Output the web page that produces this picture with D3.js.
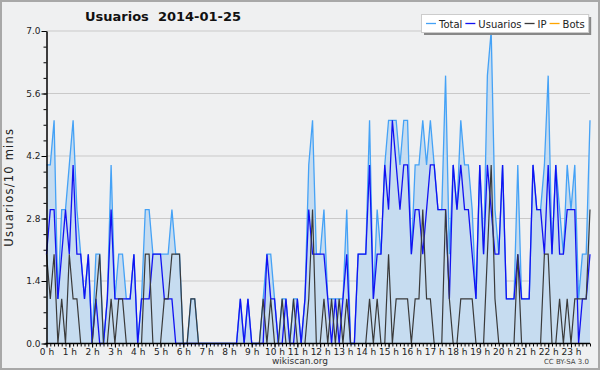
<!DOCTYPE html>
<html lang="es">
<head>
<meta charset="UTF-8">
<title>Usuarios 2014-01-25</title>
<script src="https://d3js.org/d3.v7.min.js"></script>
<style>
  body { margin: 0; background: #efefef; }
  svg text { font-family: "DejaVu Sans", sans-serif; }
</style>
</head>
<body>
<svg width="600" height="370"></svg>
<script>
// one value every 10 minutes, one row per hour
const total = [
  4,4,5,1,3,3,  4,5,3,2,1,2,  0,2,2,0,1,4,  1,2,2,1,1,2,
  0,1,3,3,2,2,  2,2,2,3,2,2,  0,0,1,1,0,0,  0,0,0,0,0,0,
  0,0,0,1,0,1,  0,0,0,1,2,2,  1,0,1,1,0,1,  1,0,1,4,5,2,
  2,3,1,1,1,1,  1,3,0,0,2,2,  2,5,1,3,2,4,  5,5,5,4,5,5,
  2,4,4,5,4,5,  4,3,3,6,2,4,  3,5,4,4,3,1,  4,2,6,7,3,2,
  4,1,1,1,4,1,  1,1,4,3,3,4,  6,2,4,3,2,4,  3,4,1,2,2,5
];
const usuarios = [
  2,3,3,1,2,3,  2,4,2,2,1,2,  0,1,0,0,1,3,  1,1,1,1,1,2,
  0,1,1,1,2,2,  2,1,1,1,0,0,  0,0,0,0,0,0,  0,0,0,0,0,0,
  0,0,0,1,0,1,  0,0,0,0,2,1,  1,0,0,1,0,0,  1,0,1,3,2,2,
  2,2,1,0,1,0,  1,2,0,0,2,2,  2,4,1,2,2,4,  3,5,4,3,4,4,
  2,3,3,2,3,4,  4,3,3,3,1,4,  3,4,3,3,2,1,  4,2,4,3,2,2,
  4,1,1,1,2,1,  1,1,4,3,3,2,  4,2,4,2,2,3,  3,3,0,1,1,2
];
const ip = [
  2,1,2,0,1,0,  2,1,1,0,0,0,  0,1,2,0,0,1,  0,1,1,0,0,0,
  0,0,2,2,0,0,  0,1,1,2,2,2,  0,0,1,1,0,0,  0,0,0,0,0,0,
  0,0,0,0,0,0,  0,0,0,1,0,1,  0,0,1,0,0,1,  0,0,0,1,3,0,
  0,1,0,1,0,1,  0,1,0,0,0,0,  0,1,0,1,0,0,  2,0,1,1,1,1,
  0,1,1,3,1,1,  0,0,0,3,1,0,  0,1,1,1,1,0,  0,0,2,4,1,0,
  0,0,0,0,2,0,  0,0,0,0,0,2,  2,0,0,1,0,1,  0,1,1,1,1,3
];
const bots = [
  0,0,0,0,0,0,  0,0,0,0,0,0,  0,0,0,0,0,0,  0,0,0,0,0,0,
  0,0,0,0,0,0,  0,0,0,0,0,0,  0,0,0,0,0,0,  0,0,0,0,0,0,
  0,0,0,0,0,0,  0,0,0,0,0,0,  0,0,0,0,0,0,  0,0,0,0,0,0,
  0,0,0,0,0,0,  0,0,0,0,0,0,  0,0,0,0,0,0,  0,0,0,0,0,0,
  0,0,0,0,0,0,  0,0,0,0,0,0,  0,0,0,0,0,0,  0,0,0,0,0,0,
  0,0,0,0,0,0,  0,0,0,0,0,0,  0,0,0,0,0,0,  0,0,0,0,0,0
];
const hourLabels = ["0 h","1 h","2 h","3 h","4 h","5 h","6 h","7 h","8 h","9 h","10 h","11 h",
  "12 h","13 h","14 h","15 h","16 h","17 h","18 h","19 h","20 h","21 h","22 h","23 h"];
const yTicks = [0, 1.4, 2.8, 4.2, 5.6, 7.0];

const width = 600, height = 370;
const plotLeft = 46.5, plotRight = 590, plotTop = 31, plotBottom = 343.5;

const svg = d3.select("svg");

svg.append("rect").attr("x", 1).attr("y", 1)
  .attr("width", width - 2).attr("height", height - 2)
  .attr("fill", "#eff0f1").attr("stroke", "#a8a8a8").attr("stroke-width", 2);

const x = d3.scaleLinear().domain([0, total.length - 1]).range([plotLeft, plotRight]);
const y = d3.scaleLinear().domain([0, 7]).range([plotBottom, plotTop]);

// grid
svg.append("g").selectAll("line")
  .data(yTicks.slice(1))
  .join("line")
  .attr("x1", plotLeft).attr("x2", plotRight)
  .attr("y1", d => y(d)).attr("y2", d => y(d))
  .attr("stroke", "#c9c9c9").attr("stroke-width", 1);

const idx = d3.range(total.length);

// total area + lines
svg.append("path").datum(idx)
  .attr("fill", "#c6dcf0")
  .attr("d", d3.area().x(i => x(i)).y0(y(0)).y1(i => y(total[i])));

const line = arr => d3.line().x(i => x(i)).y(i => y(arr[i]));

svg.append("path").datum(idx).attr("fill", "none")
  .attr("stroke", "#ffa500").attr("stroke-width", 1.2).attr("d", line(bots));
svg.append("path").datum(idx).attr("fill", "none")
  .attr("stroke", "#45a2f6").attr("stroke-width", 1.3).attr("d", line(total));
svg.append("path").datum(idx).attr("fill", "none")
  .attr("stroke", "#1212f2").attr("stroke-width", 1.3).attr("d", line(usuarios));
svg.append("path").datum(idx).attr("fill", "none")
  .attr("stroke", "#3a3a3a").attr("stroke-width", 1.2).attr("d", line(ip));

// x axis: small ticks every 10 min, labels every hour
const xMinor = svg.append("g")
  .attr("transform", `translate(0,${plotBottom})`)
  .call(d3.axisBottom(x).tickValues(idx).tickSize(3).tickFormat(""));
xMinor.select(".domain").remove();
const xAxis = svg.append("g")
  .attr("transform", `translate(0,${plotBottom})`)
  .call(d3.axisBottom(x).tickValues(d3.range(0, 144, 6)).tickSize(4)
    .tickSizeOuter(0).tickPadding(1).tickFormat((d, i) => hourLabels[i]));
xAxis.select(".domain").attr("stroke", "#000").attr("stroke-width", 1.5)
  .attr("d", `M${plotLeft - 1},0H${plotRight}`);
xAxis.selectAll("text").attr("font-size", 9).attr("fill", "#222")
  .attr("font-family", "DejaVu Sans Condensed, DejaVu Sans, sans-serif");

// y axis
const yMinor = svg.append("g")
  .attr("transform", `translate(${plotLeft},0)`)
  .call(d3.axisLeft(y).tickValues(d3.range(0, 7.01, 0.35)).tickSize(3).tickFormat(""));
yMinor.select(".domain").remove();
const yAxis = svg.append("g")
  .attr("transform", `translate(${plotLeft},0)`)
  .call(d3.axisLeft(y).tickValues(yTicks).tickSize(5).tickSizeOuter(0)
    .tickPadding(1).tickFormat(d3.format(".1f")));
yAxis.select(".domain").attr("stroke", "#000").attr("stroke-width", 1.5);
yAxis.selectAll("text").attr("font-size", 9).attr("fill", "#222")
  .attr("font-family", "DejaVu Sans Condensed, DejaVu Sans, sans-serif");

// title
svg.append("text")
  .attr("x", 85).attr("y", 21)
  .style("white-space", "pre")
  .attr("font-size", 13).attr("font-weight", "bold").attr("fill", "#111")
  .text("Usuarios  2014-01-25");

// y label
svg.append("text")
  .attr("transform", `translate(13,${(plotTop + plotBottom) / 2}) rotate(-90)`)
  .attr("text-anchor", "middle")
  .attr("font-family", "DejaVu Sans Mono, monospace")
  .attr("font-size", 11.5).attr("letter-spacing", 1.2).attr("fill", "#222")
  .text("Usuarios/10 mins");

// footer
svg.append("text")
  .attr("x", 300).attr("y", 364).attr("text-anchor", "middle")
  .attr("font-size", 9).attr("fill", "#333")
  .text("wikiscan.org");
svg.append("text")
  .attr("x", 589).attr("y", 364).attr("text-anchor", "end")
  .attr("font-size", 7).attr("fill", "#444")
  .text("CC BY-SA 3.0");

// legend
const legendItems = [
  {name: "Total", color: "#45a2f6"},
  {name: "Usuarios", color: "#1212f2"},
  {name: "IP", color: "#3a3a3a"},
  {name: "Bots", color: "#ffa500"}
];
const lg = svg.append("g");
const shadow = lg.append("rect").attr("fill", "#888");
const box = lg.append("rect").attr("fill", "#fff").attr("stroke", "#ccc");
let lx = 426;
legendItems.forEach(item => {
  lg.append("line").attr("x1", lx).attr("x2", lx + 10)
    .attr("y1", 23.5).attr("y2", 23.5)
    .attr("stroke", item.color).attr("stroke-width", 1.3);
  const t = lg.append("text").attr("x", lx + 13).attr("y", 27.5)
    .attr("font-size", 10).attr("fill", "#222")
    .attr("font-family", "DejaVu Sans Condensed, DejaVu Sans, sans-serif")
    .text(item.name);
  lx += 13 + t.node().getComputedTextLength() + 3;
});
const boxW = lx + 1 - 421.5;
box.attr("x", 421.5).attr("y", 14.5).attr("width", boxW).attr("height", 18);
shadow.attr("x", 424).attr("y", 17).attr("width", boxW).attr("height", 18);
</script>
</body>
</html>
